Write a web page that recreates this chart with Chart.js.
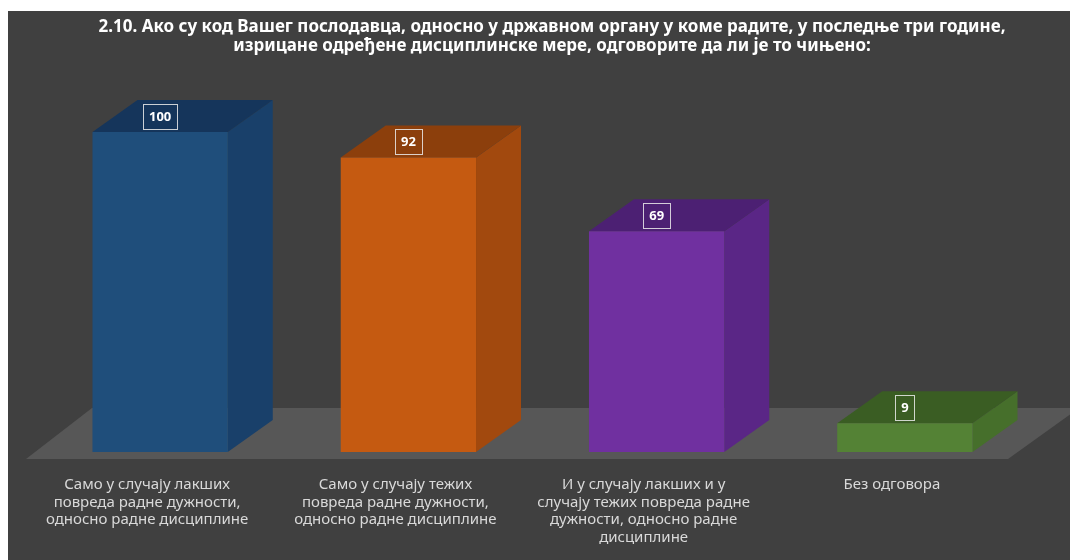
<!DOCTYPE html>
<html>
<head>
<meta charset="utf-8">
<script src="https://cdn.jsdelivr.net/npm/chart.js@4.4.1/dist/chart.umd.min.js"></script>
<style>
  html, body { margin: 0; padding: 0; background: #ffffff; overflow: hidden; }
  #wrap { position: relative; width: 1070px; height: 560px; }
  canvas { display: block; }
</style>
</head>
<body>
<div id="wrap"><canvas id="chart" width="1070" height="560"></canvas></div>
<script>
// Chart title, two centred lines
const titleLines = [
  "2.10. Ако су код Вашег послодавца, односно у државном органу у коме радите, у последње три године,",
  "изрицане одређене дисциплинске мере, одговорите да ли је то чињено:"
];

// Answer categories (pre-wrapped into lines)
const categories = [
  ["Само у случају лакших", "повреда радне дужности,", "односно радне дисциплине"],
  ["Само у случају тежих", "повреда радне дужности,", "односно радне дисциплине"],
  ["И у случају лакших и у", "случају тежих повреда радне", "дужности, односно радне", "дисциплине"],
  ["Без одговора"]
];

// Number of answers per category
const values = [100, 92, 69, 9];

// Face colours of each 3D column: front, right side, top
const frontColors = ["#1f4e7b", "#c55a11", "#7030a0", "#548235"];
const sideColors  = ["#19406a", "#a2490e", "#5a2686", "#466f2b"];
const topColors   = ["#15355b", "#8c3f0c", "#4c2073", "#3a5d23"];

const DEPTH_X = 45;   // receding depth of the columns, px
const DEPTH_Y = -32;

// Dark panel behind the whole chart
const panelPlugin = {
  id: "panel",
  beforeDraw(chart) {
    const ctx = chart.ctx;
    ctx.save();
    ctx.fillStyle = "#ffffff";
    ctx.fillRect(0, 0, chart.width, chart.height);
    ctx.fillStyle = "#404040";
    ctx.fillRect(8, 11, chart.width - 8, chart.height - 11);
    ctx.restore();
  }
};

// Floor plane and the side/top faces of every column
const depthPlugin = {
  id: "depth",
  beforeDatasetsDraw(chart) {
    const ctx = chart.ctx;
    const a = chart.chartArea;
    ctx.save();
    // floor
    ctx.fillStyle = "#575757";
    ctx.beginPath();
    ctx.moveTo(a.left - 10, a.bottom + 7);
    ctx.lineTo(a.right - 21, a.bottom + 7);
    ctx.lineTo(a.right + 50, a.bottom - 44);
    ctx.lineTo(a.left + 56, a.bottom - 44);
    ctx.closePath();
    ctx.fill();

    const meta = chart.getDatasetMeta(0);
    meta.data.forEach((bar, i) => {
      const p = bar.getProps(["x", "y", "base", "width"], true);
      const l = p.x - p.width / 2, r = p.x + p.width / 2;
      // right side
      ctx.fillStyle = sideColors[i];
      ctx.beginPath();
      ctx.moveTo(r, p.y);
      ctx.lineTo(r + DEPTH_X, p.y + DEPTH_Y);
      ctx.lineTo(r + DEPTH_X, p.base + DEPTH_Y);
      ctx.lineTo(r, p.base);
      ctx.closePath();
      ctx.fill();
      // top
      ctx.fillStyle = topColors[i];
      ctx.beginPath();
      ctx.moveTo(l, p.y);
      ctx.lineTo(r, p.y);
      ctx.lineTo(r + DEPTH_X, p.y + DEPTH_Y);
      ctx.lineTo(l + DEPTH_X, p.y + DEPTH_Y);
      ctx.closePath();
      ctx.fill();
    });
    ctx.restore();
  },
  afterDatasetsDraw(chart) {
    // boxed value labels sitting on the top faces
    const ctx = chart.ctx;
    const meta = chart.getDatasetMeta(0);
    ctx.save();
    ctx.font = "bold 13px 'Noto Sans'";
    ctx.textAlign = "center";
    ctx.textBaseline = "middle";
    meta.data.forEach((bar, i) => {
      const p = bar.getProps(["x", "y"], true);
      const txt = String(values[i]);
      const w = ctx.measureText(txt).width + 12;
      const h = 25;
      const cx = p.x, cy = p.y - 16;
      ctx.fillStyle = topColors[i];
      ctx.fillRect(cx - w / 2, cy - h / 2, w, h);
      ctx.strokeStyle = "rgba(235,235,235,0.85)";
      ctx.lineWidth = 1;
      ctx.strokeRect(Math.round(cx - w / 2) + 0.5, Math.round(cy - h / 2) + 0.5, Math.round(w), h);
      ctx.fillStyle = "#ffffff";
      ctx.fillText(txt, cx, cy + 1);
    });
    ctx.restore();
  }
};

// Title drawn across the panel
const titlePlugin = {
  id: "titleLines",
  afterDraw(chart) {
    const ctx = chart.ctx;
    ctx.save();
    ctx.font = "bold 17px 'Noto Sans'";
    ctx.fillStyle = "#ffffff";
    ctx.textAlign = "center";
    ctx.textBaseline = "middle";
    titleLines.forEach((line, i) => ctx.fillText(line, 552, 27 + i * 19));
    ctx.restore();
  }
};

new Chart(document.getElementById("chart"), {
  type: "bar",
  data: {
    labels: categories,
    datasets: [{
      data: values,
      backgroundColor: frontColors,
      borderWidth: 0,
      categoryPercentage: 1,
      barPercentage: 0.545
    }]
  },
  options: {
    responsive: false,
    animation: false,
    devicePixelRatio: 1,
    layout: { padding: { top: 68, left: 36, right: 41, bottom: 0 } },
    plugins: {
      legend: { display: false },
      tooltip: { enabled: false },
      title: { display: false }
    },
    scales: {
      x: {
        grid: { display: false, drawTicks: false },
        border: { display: false },
        ticks: {
          color: "#d9d9d9",
          font: { family: "'Noto Sans'", size: 15, lineHeight: 1.17 },
          padding: 24,
          labelOffset: -13,
          maxRotation: 0,
          autoSkip: false
        },
        afterFit(scale) { scale.height = 108; }
      },
      y: {
        display: false,
        min: 0,
        max: 120
      }
    }
  },
  plugins: [panelPlugin, depthPlugin, titlePlugin]
});
</script>
</body>
</html>
